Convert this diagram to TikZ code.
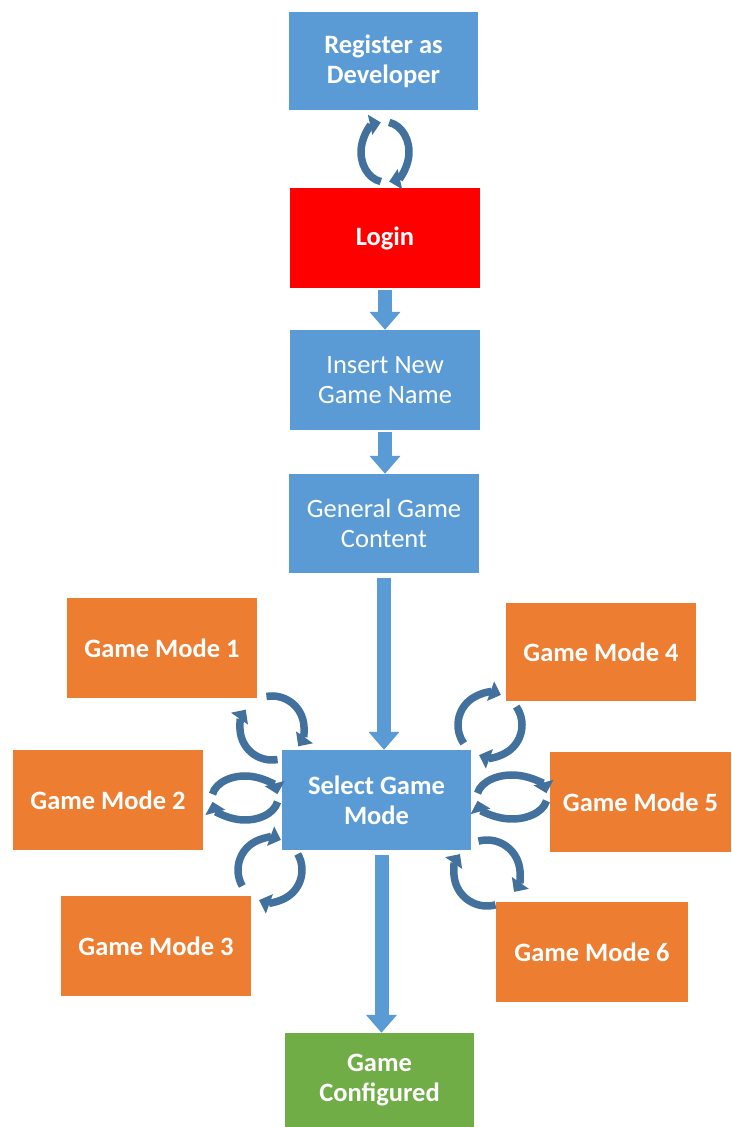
\documentclass[tikz,border=0pt]{standalone}
\usepackage{fontspec}
\setmainfont{Carlito}
\usetikzlibrary{arrows.meta,calc}
\definecolor{bbox}{HTML}{5B9BD5}
\definecolor{obox}{HTML}{ED7D31}
\definecolor{gbox}{HTML}{70AD47}
\definecolor{cyc}{HTML}{41719C}
\tikzset{
  box/.style={minimum width=190pt,minimum height=100pt,inner sep=0pt,text=white,align=center,
    font=\fontsize{26.5}{30}\selectfont},
  bfont/.style={font=\fontsize{26.5}{30}\selectfont\bfseries},
  blk/.style={draw=bbox,line width=14pt,-{Triangle[width=30pt,length=18pt]}},
  cyca/.style={draw=cyc,line width=7.5pt,-{Triangle[width=20pt,length=11pt]}},
}
% #1 center, #2 rx, #3 ry, #4 start angle, #5 extent
\newcommand{\cycarrow}[5]{%
  \draw[cyca] ($(#1)+({#2*cos(#4)},{#3*sin(#4)})$) arc[start angle=#4,delta angle=-#5,x radius=#2,y radius=#3];
  \draw[cyca] ($(#1)+({#2*cos(#4-180)},{#3*sin(#4-180)})$) arc[start angle=#4-180,delta angle=-#5,x radius=#2,y radius=#3];
}
\begin{document}
\begin{tikzpicture}[x=1pt,y=1pt]
\useasboundingbox (0,0) rectangle (731,1127);
\node[box,bfont,fill=bbox,minimum width=189pt,minimum height=98pt] (reg) at (383.5,1066) {Register as\\Developer};
\node[box,bfont,fill=red] (login) at (385,889) {Login};
\node[box,fill=bbox] (insert) at (385,747) {Insert New\\Game Name};
\node[box,fill=bbox,minimum height=99pt] (general) at (384,603.5) {General Game\\Content};
\node[box,bfont,fill=bbox,minimum width=189pt] (select) at (376.5,327) {Select Game\\Mode};
\node[box,bfont,fill=gbox,minimum width=189pt,minimum height=94pt] (conf) at (379.5,47) {Game\\Configured};
\node[box,bfont,fill=obox] (gm1) at (162,479) {Game Mode 1};
\node[box,bfont,fill=obox] (gm2) at (108,327) {Game Mode 2};
\node[box,bfont,fill=obox] (gm3) at (156,181) {Game Mode 3};
\node[box,bfont,fill=obox,minimum height=98pt] (gm4) at (601,475) {Game Mode 4};
\node[box,bfont,fill=obox,minimum width=181pt] (gm5) at (640.5,325) {Game Mode 5};
\node[box,bfont,fill=obox,minimum width=192pt] (gm6) at (592,175) {Game Mode 6};

\draw[blk,shorten <=2pt] (login.south) -- (insert.north);
\draw[blk,shorten <=2pt] (insert.south) -- (insert.south |- general.north);
\draw[blk,shorten <=5pt] (general.south) -- (general.south |- select.north);
\draw[blk,shorten <=5pt] ([xshift=5pt]select.south) -- ([xshift=5pt]select.south |- conf.north);

\coordinate (c0) at (385,975);
\coordinate (c1) at (272,399);
\coordinate (c2) at (245,329);
\coordinate (c3) at (270,257);
\coordinate (c4) at (490,402);
\coordinate (c5) at (512,330);
\coordinate (c6) at (487,254);
\cycarrow{c0}{24}{30}{80}{160}
\cycarrow{c1}{32}{32}{100}{135}
\cycarrow{c2}{33}{22}{170}{160}
\cycarrow{c3}{32}{32}{210}{140}
\cycarrow{c4}{32}{32}{215}{145}
\cycarrow{c5}{35}{22}{170}{160}
\cycarrow{c6}{33}{33}{105}{140}
\end{tikzpicture}
\end{document}
